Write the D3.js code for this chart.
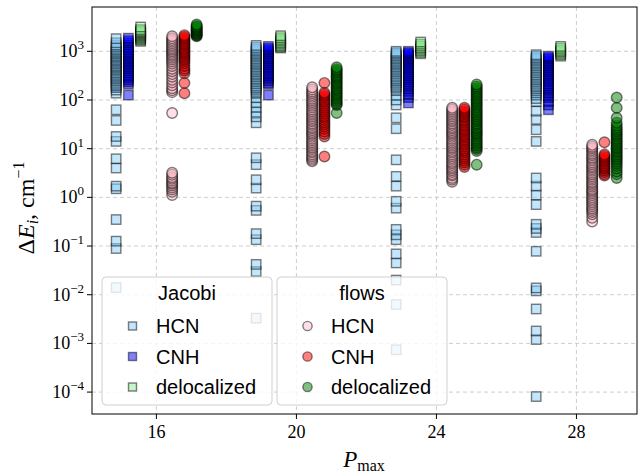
<!DOCTYPE html>
<html>
<head>
<meta charset="utf-8">
<script src="https://cdn.jsdelivr.net/npm/d3@7/dist/d3.min.js"></script>
<style>
	body { margin: 0; background: #fff; }
	svg { display: block; }
	.tick-label { font-family: "Liberation Serif", "DejaVu Serif", serif; font-size: 18px; fill: #000; }
	.legend-text { font-family: "Liberation Sans", Arial, sans-serif; font-size: 20px; fill: #000; }
	.grid line { stroke: #c8c8c8; stroke-width: 0.9; stroke-dasharray: 4,3; }
</style>
</head>
<body>
<div id="chart"></div>
<script>

var pmax = [16, 20, 24, 28];
var yTicks = [-4, -3, -2, -1, 0, 1, 2, 3];

// one list per P_max value, in cm^-1
var jacobiHCN = [
	[1820, 1500, 1350, 1250, 1150, 1070, 1000, 940, 880, 820, 770, 720, 670, 630, 590, 550, 510, 480, 450, 420, 390, 360, 335, 310, 290, 270, 250, 230, 210, 195, 180, 160, 138, 63, 38, 17.8, 14.1, 6.2, 4.0, 1.7, 1.5, 0.35, 0.126, 0.089, 0.014],
	[1320, 1200, 1100, 1020, 950, 880, 820, 760, 700, 650, 600, 560, 520, 480, 445, 410, 380, 350, 325, 300, 275, 255, 235, 215, 195, 180, 165, 150, 138, 112, 89, 71, 56, 45, 34, 6.5, 4.7, 2.3, 1.55, 0.66, 0.54, 0.18, 0.135, 0.042, 0.030, 0.0033],
	[1000, 930, 870, 810, 750, 700, 650, 600, 560, 520, 480, 445, 410, 380, 350, 320, 295, 270, 250, 230, 210, 190, 175, 158, 126, 100, 79, 43, 25.7, 5.9, 2.7, 1.7, 0.83, 0.6, 0.22, 0.17, 0.135, 0.069, 0.045, 0.020, 0.0063, 0.00074],
	[851, 790, 730, 680, 630, 580, 540, 500, 460, 425, 390, 360, 330, 305, 280, 260, 240, 220, 200, 185, 170, 155, 140, 126, 107, 93, 59, 40, 24.5, 14.1, 2.5, 1.7, 1.12, 0.71, 0.28, 0.23, 0.19, 0.078, 0.0138, 0.012, 0.0051, 0.0018, 0.0012, 0.000081]
];
var jacobiCNH = [
	[1860, 1650, 1500, 1350, 1200, 1080, 980, 900, 820, 750, 690, 630, 580, 530, 480, 440, 400, 360, 320, 290, 260, 235, 210, 126],
	[1260, 1150, 1060, 980, 900, 830, 760, 700, 640, 590, 540, 490, 450, 410, 370, 340, 310, 280, 250, 225, 209, 126],
	[1000, 930, 870, 810, 750, 700, 650, 600, 550, 500, 460, 420, 380, 345, 315, 285, 260, 235, 210, 190, 170, 150, 130, 112, 87],
	[794, 740, 690, 640, 590, 545, 500, 460, 420, 385, 350, 320, 290, 265, 240, 215, 195, 175, 158, 140, 125, 112, 93, 79, 63]
];
var jacobiDeloc = [
	[3160, 2800, 2630, 2500, 2400, 2300, 2200, 2100, 2000, 1900, 1800, 1700, 1600],
	[2090, 1900, 1750, 1620, 1500, 1400, 1300, 1230, 1170],
	[1550, 1400, 1280, 1180, 1100, 1020, 950, 891],
	[1260, 1150, 1050, 980, 912, 850, 794]
];
var flowsHCN = [
	[2040, 1850, 1700, 1580, 1460, 1350, 1250, 1160, 1080, 1000, 930, 860, 800, 740, 680, 620, 560, 500, 440, 390, 340, 300, 260, 230, 200, 175, 158, 145, 54, 3.2, 2.9, 2.6, 2.4, 2.2, 2.0, 1.9, 1.75, 1.6, 1.45, 1.3, 1.12],
	[182, 165, 150, 138, 126, 116, 106, 98, 90, 83, 76, 70, 64, 59, 54, 50, 46, 42, 39, 36, 33, 30.5, 28, 26, 24, 22, 20.5, 19, 17.5, 16, 14.8, 13.6, 12.5, 11.5, 10.6, 9.8, 9.0, 8.3, 7.6, 7.0, 6.4, 5.9, 5.5],
	[69, 64, 59, 54, 50, 46, 42, 39, 36, 33, 30.5, 28, 26, 24, 22, 20.5, 19, 17.5, 16, 14.8, 13.6, 12.5, 11.5, 10.6, 9.8, 9.0, 8.3, 7.6, 7.0, 6.4, 5.9, 5.4, 5.0, 4.6, 4.2, 3.9, 3.6, 3.3, 3.0, 2.8, 2.5, 2.3, 2.1],
	[12, 11, 10.2, 9.4, 8.6, 7.9, 7.3, 6.7, 6.2, 5.7, 5.2, 4.8, 4.4, 4.1, 3.8, 3.5, 3.2, 2.95, 2.7, 2.5, 2.3, 2.1, 1.95, 1.8, 1.65, 1.5, 1.4, 1.3, 1.2, 1.1, 1.0, 0.92, 0.85, 0.78, 0.72, 0.66, 0.6, 0.55, 0.5, 0.45, 0.38, 0.32]
];
var flowsCNH = [
	[2140, 1980, 1850, 1720, 1600, 1480, 1380, 1280, 1180, 1100, 1020, 950, 880, 810, 750, 690, 630, 570, 500, 440, 400, 355, 224, 138],
	[224, 141, 130, 120, 110, 100, 92, 84, 76, 69, 63, 57, 52, 47, 43, 39, 35, 31.6, 28.5, 25.5, 22.5, 20, 17.8, 6.9],
	[69, 64, 59, 55, 51, 47, 44, 40, 37, 34, 31, 28.5, 26, 24, 22, 20, 18.5, 17, 15.5, 14.2, 13, 12, 11, 10, 9.2, 8.4, 7.6, 6.9, 6.3, 5.7, 5.2, 4.7, 4.2],
	[13.5, 7.6, 7.1, 6.6, 6.1, 5.7, 5.3, 4.9, 4.5, 4.2, 3.9, 3.6, 3.3, 3.0, 2.8]
];
var flowsDeloc = [
	[3550, 3300, 3160, 3000, 2880, 2750, 2630, 2500, 2400, 2300, 2190, 2100, 2040],
	[468, 430, 398, 370, 340, 316, 295, 275, 255, 235, 218, 200, 185, 170, 158, 146, 135, 125, 115, 106, 98, 90, 83, 79, 54],
	[209, 190, 175, 160, 148, 136, 125, 115, 106, 98, 90, 83, 76, 70, 64, 59, 54, 50, 46, 42, 39, 36, 33, 30.5, 28, 26, 24, 22, 20.5, 19, 17.5, 16, 14.8, 13.6, 12.5, 11.5, 10.6, 9.8, 9.0, 4.7],
	[112, 69, 43, 34, 30, 27, 24.5, 22.5, 20.5, 19, 17.5, 16, 14.8, 13.6, 12.5, 11.5, 10.6, 9.8, 9.0, 8.3, 7.6, 7.0, 6.4, 5.9, 5.4, 4.9, 4.4, 3.9, 3.4, 3.0, 2.5]
];

var series = [
	{ name: 'HCN', group: 'Jacobi', data: jacobiHCN, color: 'lightskyblue', shape: 'square', shift: -1.15 },
	{ name: 'CNH', group: 'Jacobi', data: jacobiCNH, color: 'blue', shape: 'square', shift: -0.8 },
	{ name: 'delocalized', group: 'Jacobi', data: jacobiDeloc, color: 'lightgreen', shape: 'square', shift: -0.45 },
	{ name: 'HCN', group: 'flows', data: flowsHCN, color: 'pink', shape: 'circle', shift: 0.45 },
	{ name: 'CNH', group: 'flows', data: flowsCNH, color: 'red', shape: 'circle', shift: 0.8 },
	{ name: 'delocalized', group: 'flows', data: flowsDeloc, color: 'green', shape: 'circle', shift: 1.15 }
];

var W = 639, H = 475;
var margin = { left: 92, right: 2, top: 7, bottom: 61 };

var svg = d3.select('#chart').append('svg').attr('width', W).attr('height', H);

var x = d3.scaleLinear().domain([14.16, 29.73]).range([margin.left, W - margin.right]);
var y = d3.scaleLog().domain([Math.pow(10, -4.45), Math.pow(10, 3.91)]).range([H - margin.bottom, margin.top]);

// grid
var grid = svg.append('g').attr('class', 'grid');
grid.selectAll('.gx').data(pmax).enter().append('line')
	.attr('x1', function(d) { return x(d); }).attr('x2', function(d) { return x(d); })
	.attr('y1', margin.top).attr('y2', H - margin.bottom);
grid.selectAll('.gy').data(yTicks).enter().append('line')
	.attr('x1', margin.left).attr('x2', W - margin.right)
	.attr('y1', function(d) { return y(Math.pow(10, d)); }).attr('y2', function(d) { return y(Math.pow(10, d)); });

function drawMarker(sel, shape, color, size) {
	if (shape == 'square') {
		sel.append('rect')
			.attr('x', -size / 2).attr('y', -size / 2)
			.attr('width', size).attr('height', size);
	} else {
		sel.append('circle').attr('r', size / 2 + 0.6);
	}
	sel.selectAll('rect, circle')
		.attr('fill', color).attr('fill-opacity', 0.5)
		.attr('stroke', '#000').attr('stroke-opacity', 0.5).attr('stroke-width', 1.4);
}

var plot = svg.append('g');
series.forEach(function(s) {
	var pts = [];
	s.data.forEach(function(vals, i) {
		vals.forEach(function(v) { pts.push({ p: pmax[i] + s.shift, v: v }); });
	});
	// lowest levels first, so the upper ones sit on top
	pts.sort(function(a, b) { return a.v - b.v; });
	var g = plot.selectAll(null).data(pts).enter().append('g')
		.attr('transform', function(d) { return 'translate(' + x(d.p) + ',' + y(d.v) + ')'; });
	drawMarker(g, s.shape, s.color, 9.4);
});

// frame
svg.append('rect')
	.attr('x', margin.left).attr('y', margin.top)
	.attr('width', W - margin.right - margin.left).attr('height', H - margin.bottom - margin.top)
	.attr('fill', 'none').attr('stroke', '#000').attr('stroke-width', 1);

// axes
var xAxis = svg.append('g');
pmax.forEach(function(p) {
	xAxis.append('line').attr('x1', x(p)).attr('x2', x(p))
		.attr('y1', H - margin.bottom).attr('y2', H - margin.bottom + 5).attr('stroke', '#000');
	xAxis.append('text').attr('class', 'tick-label').attr('x', x(p)).attr('y', H - margin.bottom + 24)
		.attr('text-anchor', 'middle').text(p);
});

var yAxis = svg.append('g');
yTicks.forEach(function(e) {
	var yy = y(Math.pow(10, e));
	yAxis.append('line').attr('x1', margin.left - 5).attr('x2', margin.left)
		.attr('y1', yy).attr('y2', yy).attr('stroke', '#000');
	var t = yAxis.append('text').attr('class', 'tick-label').attr('x', margin.left - 8).attr('y', yy + 6)
		.attr('text-anchor', 'end');
	t.append('tspan').text('10');
	t.append('tspan').attr('dy', -8).attr('font-size', 13).text(e < 0 ? '\u2212' + (-e) : e);
});

// axis labels
var xl = svg.append('text').attr('class', 'tick-label').attr('x', 364).attr('y', 467)
	.attr('text-anchor', 'middle').style('font-size', '23px');
xl.append('tspan').attr('font-style', 'italic').text('P');
xl.append('tspan').attr('dy', 4).attr('font-size', 16).text('max');

var yl = svg.append('text').attr('class', 'tick-label')
	.attr('transform', 'translate(34,208) rotate(-90)')
	.attr('text-anchor', 'middle').style('font-size', '24px');
yl.append('tspan').text('\u0394');
yl.append('tspan').attr('font-style', 'italic').text('E');
yl.append('tspan').attr('font-style', 'italic').attr('dy', 4).attr('font-size', 16).text('i');
yl.append('tspan').attr('dy', -4).text(', cm');
yl.append('tspan').attr('dy', -10).attr('font-size', 16).text('\u22121');

// legends
function createLegend(group, left) {
	var items = series.filter(function(s) { return s.group == group; });
	var lg = svg.append('g').attr('transform', 'translate(' + left + ',277)');
	lg.append('rect').attr('width', 170).attr('height', 128).attr('rx', 4)
		.attr('fill', '#fff').attr('fill-opacity', 0.8).attr('stroke', '#d0d0d0');
	lg.append('text').attr('class', 'legend-text').attr('x', 85).attr('y', 23)
		.attr('text-anchor', 'middle').text(group);
	items.forEach(function(s, i) {
		var row = lg.append('g').attr('transform', 'translate(0,' + (49 + i * 30.5) + ')');
		var m = row.append('g').attr('transform', 'translate(30.5,0)');
		drawMarker(m, s.shape, s.color, 8);
		row.append('text').attr('class', 'legend-text').attr('x', 54).attr('y', 7).text(s.name);
	});
}
createLegend('Jacobi', 102);
createLegend('flows', 277);

</script>
</body>
</html>
